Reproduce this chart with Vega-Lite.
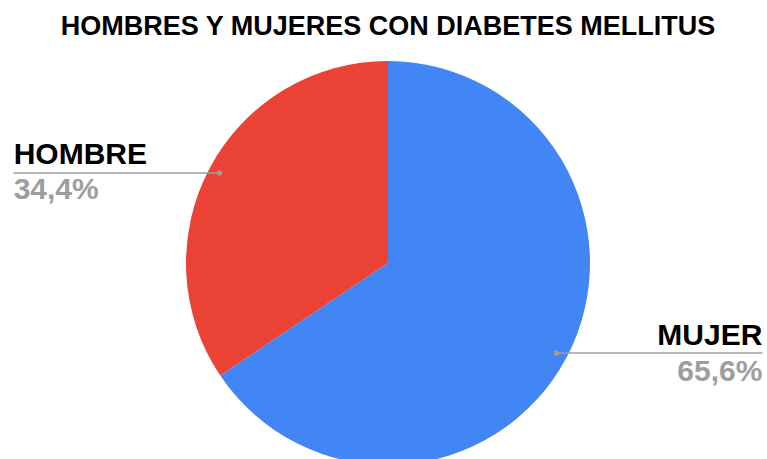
{
  "$schema": "https://vega.github.io/schema/vega-lite/v6.json",
  "autosize": "none",
  "width": 758,
  "height": 392,
  "padding": {"left": 9, "top": 67, "right": 0, "bottom": 0},
  "background": "white",
  "config": {"view": {"stroke": null}, "font": "Liberation Sans"},
  "title": {
    "text": "HOMBRES Y MUJERES CON DIABETES MELLITUS",
    "font": "Liberation Sans",
    "fontSize": 27,
    "fontWeight": "bold",
    "color": "#000000",
    "anchor": "middle",
    "offset": 20
  },
  "data": {
    "values": [
      {"sexo": "MUJER", "pct": 65.6},
      {"sexo": "HOMBRE", "pct": 34.4}
    ]
  },
  "layer": [
    {
      "mark": {"type": "arc", "outerRadius": 202, "stroke": null},
      "encoding": {
        "theta": {"field": "pct", "type": "quantitative", "stack": true},
        "order": {"field": "pct", "sort": "descending"},
        "color": {
          "field": "sexo",
          "type": "nominal",
          "scale": {"domain": ["MUJER", "HOMBRE"], "range": ["#4285f4", "#ea4335"]},
          "legend": null
        }
      }
    },
    {
      "transform": [
        {"stack": "pct", "groupby": [], "as": ["s0", "s1"], "sort": [{"field": "pct", "order": "descending"}]},
        {"calculate": "(datum.s0 + datum.s1) / 200 * 2 * PI", "as": "ang"},
        {"calculate": "0.945 * sin(datum.ang)", "as": "px"},
        {"calculate": "0.945 * cos(datum.ang)", "as": "py"},
        {"calculate": "datum.px < 0 ? -1.853 : 1.853", "as": "lx"},
        {"calculate": "replace(format(datum.pct, '.1f'), '.', ',') + '%'", "as": "plabel"}
      ],
      "encoding": {
        "y": {"field": "py", "type": "quantitative", "scale": {"domain": [-0.970, 0.970], "nice": false, "zero": false}, "axis": null}
      },
      "layer": [
        {
          "mark": {"type": "rule", "color": "#9e9e9e", "strokeWidth": 1.5},
          "encoding": {
            "x": {"field": "px", "type": "quantitative", "scale": {"domain": [-1.876, 1.876], "nice": false, "zero": false}, "axis": null},
            "x2": {"field": "lx"}
          }
        },
        {
          "mark": {"type": "point", "filled": true, "color": "#9e9e9e", "size": 28, "opacity": 1},
          "encoding": {
            "x": {"field": "px", "type": "quantitative", "axis": null}
          }
        },
        {
          "transform": [{"filter": "datum.px < 0"}],
          "layer": [
            {
              "mark": {"type": "text", "align": "left", "baseline": "alphabetic", "dy": -9, "fontSize": 30, "fontWeight": "bold", "color": "#000000", "font": "Liberation Sans"},
              "encoding": {"x": {"field": "lx", "type": "quantitative", "axis": null}, "text": {"field": "sexo"}}
            },
            {
              "mark": {"type": "text", "align": "left", "baseline": "alphabetic", "dy": 26, "fontSize": 30, "fontWeight": "bold", "color": "#9e9e9e", "font": "Liberation Sans"},
              "encoding": {"x": {"field": "lx", "type": "quantitative", "axis": null}, "text": {"field": "plabel"}}
            }
          ]
        },
        {
          "transform": [{"filter": "datum.px >= 0"}],
          "layer": [
            {
              "mark": {"type": "text", "align": "right", "baseline": "alphabetic", "dy": -8, "fontSize": 30, "fontWeight": "bold", "color": "#000000", "font": "Liberation Sans"},
              "encoding": {"x": {"field": "lx", "type": "quantitative", "axis": null}, "text": {"field": "sexo"}}
            },
            {
              "mark": {"type": "text", "align": "right", "baseline": "alphabetic", "dy": 28, "fontSize": 30, "fontWeight": "bold", "color": "#9e9e9e", "font": "Liberation Sans"},
              "encoding": {"x": {"field": "lx", "type": "quantitative", "axis": null}, "text": {"field": "plabel"}}
            }
          ]
        }
      ]
    }
  ]
}
